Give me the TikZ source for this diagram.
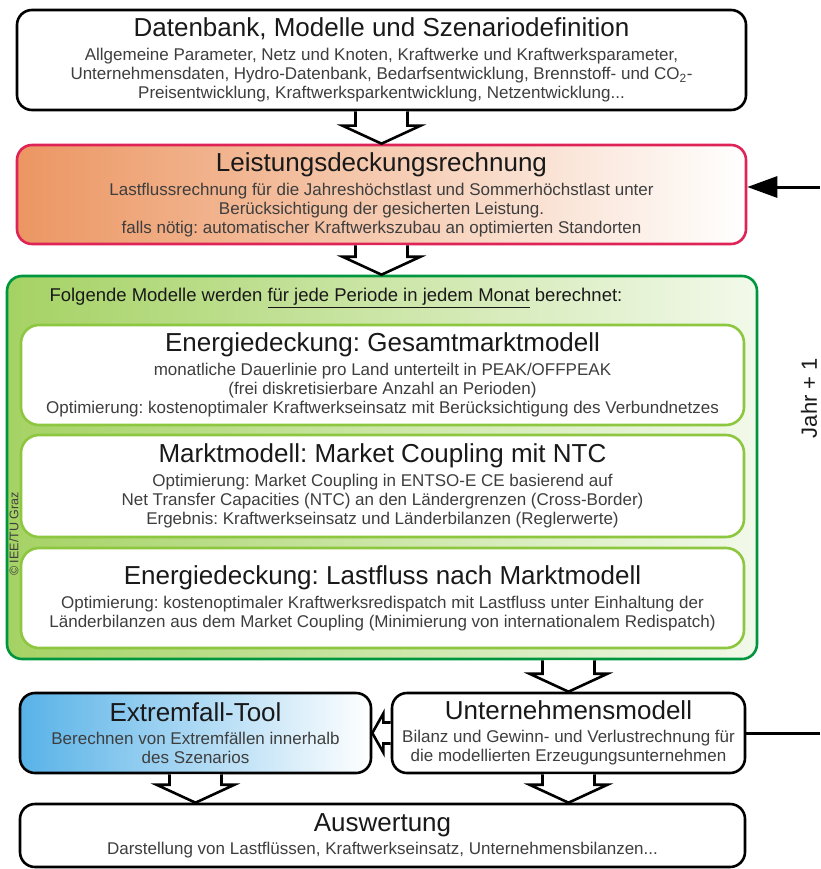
\documentclass[tikz,border=0pt]{standalone}
\usepackage{fontspec}
\setmainfont{Liberation Sans}
\usetikzlibrary{arrows.meta,calc}
\frenchspacing

\definecolor{ieeRed}{RGB}{222,36,86}
\definecolor{ieeOrange}{RGB}{236,150,98}
\definecolor{ieeGreen}{RGB}{0,150,64}
\definecolor{ieeLime}{RGB}{141,198,63}
\definecolor{ieeLeaf}{RGB}{165,210,100}
\definecolor{ieeMint}{RGB}{242,249,234}
\definecolor{ieeBlue}{RGB}{88,178,232}
\definecolor{txtGray}{RGB}{62,62,62}
\definecolor{ttlBlack}{RGB}{25,25,25}

\tikzset{
  box/.style={draw=black, line width=2.6pt, rounded corners=15pt, fill=white,
    align=center, inner sep=0pt, text=txtGray, font=\fontsize{17}{19}\selectfont},
  redbox/.style={box, draw=ieeRed, left color=ieeOrange, right color=white},
  greenbox/.style={box, draw=ieeGreen, left color=ieeLeaf, right color=ieeMint},
  modelbox/.style={box, draw=ieeLime, rounded corners=18pt},
  bluebox/.style={box, left color=ieeBlue, right color=white},
  hollowarrow/.style={draw=black, fill=white, line width=2.6pt, line join=miter},
  feedback/.style={line width=3pt, black}
}
\newcommand{\ttl}[1]{{\color{ttlBlack}\fontsize{26}{30}\selectfont #1}}

% hollow block arrow pointing down, from #1 to #2
\newcommand{\blockdown}[2]{%
  \draw[hollowarrow] let \p1=(#1), \p2=(#2) in
    (\x1-26pt,\y1) -- (\x1-26pt,\y2+18pt) -- (\x1-39pt,\y2+18pt) -- (\x1,\y2)
    -- (\x1+39pt,\y2+18pt) -- (\x1+26pt,\y2+18pt) -- (\x1+26pt,\y1);}
% small hollow block arrow pointing left, from #1 to #2
\newcommand{\blockleft}[2]{%
  \draw[hollowarrow] let \p1=(#1), \p2=(#2) in
    (\x1,\y1+10.5pt) -- (\x2+11pt,\y1+10.5pt) -- (\x2+11pt,\y1+19.5pt) -- (\x2,\y1)
    -- (\x2+11pt,\y1-19.5pt) -- (\x2+11pt,\y1-10.5pt) -- (\x1,\y1-10.5pt);}

\begin{document}
\begin{tikzpicture}[x=1pt, y=-1pt]
  \useasboundingbox (0,0) rectangle (820,869);
  \fill[white] (0,0) rectangle (820,869);

  % Szenario and Leistungsdeckung
  \node[box, minimum width=729pt, minimum height=100pt] (db) at (381.5,60)
    {\ttl{Datenbank, Modelle und Szenariodefinition}\\[5pt]
     Allgemeine Parameter, Netz und Knoten, Kraftwerke und Kraftwerksparameter,\\
     Unternehmensdaten, Hydro-Datenbank, Bedarfsentwicklung, Brennstoff- und CO\textsubscript{2}-\\
     Preisentwicklung, Kraftwerksparkentwicklung, Netzentwicklung...};
  \node[redbox, minimum width=729pt, minimum height=99pt] (lr) at (381.5,194.5)
    {\ttl{Leistungsdeckungsrechnung}\\[5pt]
     Lastflussrechnung für die Jahreshöchstlast und Sommerhöchstlast unter\\
     Berücksichtigung der gesicherten Leistung.\\
     falls nötig: automatischer Kraftwerkszubau an optimierten Standorten};

  % Monthly models
  \node[greenbox, minimum width=750pt, minimum height=383pt] (mon) at (382,467.5) {};
  \node[anchor=west, font=\fontsize{18.5}{21}\selectfont, text=ttlBlack] (montxt) at (46,298)
    {Folgende Modelle werden \underline{für jede Periode in jedem Monat} berechnet:};
  \node[rotate=90, font=\fontsize{12.5}{14}\selectfont, text=txtGray] (copy) at (14,534) {© IEE/TU Graz};
  \node[modelbox, minimum width=723pt, minimum height=100pt] (gm) at (382.5,375)
    {\ttl{Energiedeckung: Gesamtmarktmodell}\\[5pt]
     monatliche Dauerlinie pro Land unterteilt in PEAK/OFFPEAK\\
     (frei diskretisierbare Anzahl an Perioden)\\
     Optimierung: kostenoptimaler Kraftwerkseinsatz mit Berücksichtigung des Verbundnetzes};
  \node[modelbox, minimum width=723pt, minimum height=102pt] (mc) at (382.5,486)
    {\ttl{Marktmodell: Market Coupling mit NTC}\\[5pt]
     Optimierung: Market Coupling in ENTSO-E CE basierend auf\\
     Net Transfer Capacities (NTC) an den Ländergrenzen (Cross-Border)\\
     Ergebnis: Kraftwerkseinsatz und Länderbilanzen (Reglerwerte)};
  \node[modelbox, minimum width=723pt, minimum height=100pt] (lf) at (382.5,598)
    {\ttl{Energiedeckung: Lastfluss nach Marktmodell}\\[5pt]
     Optimierung: kostenoptimaler Kraftwerksredispatch mit Lastfluss unter Einhaltung der\\
     Länderbilanzen aus dem Market Coupling (Minimierung von internationalem Redispatch)};

  % Unternehmen, Extremfall, Auswertung
  \node[bluebox, minimum width=351pt, minimum height=80pt] (ex) at (195.5,733)
    {\ttl{Extremfall-Tool}\\[4pt]
     Berechnen von Extremfällen innerhalb\\
     des Szenarios};
  \node[box, minimum width=353pt, minimum height=80pt] (um) at (568.5,733)
    {\ttl{Unternehmensmodell}\\[4pt]
     Bilanz und Gewinn- und Verlustrechnung für\\
     die modellierten Erzeugungsunternehmen};
  \node[box, minimum width=725pt, minimum height=63pt] (aw) at (382.5,835.5)
    {\ttl{Auswertung}\\[4pt]
     Darstellung von Lastflüssen, Kraftwerkseinsatz, Unternehmensbilanzen...};

  % Block arrows
  \blockdown{db.south}{lr.north}
  \blockdown{lr.south}{mon.north -| lr.south}
  \blockdown{mon.south -| um.north}{um.north}
  \blockdown{ex.south}{aw.north -| ex.south}
  \blockdown{um.south}{aw.north -| um.south}
  \blockleft{um.west}{ex.east}

  % Jahr + 1 feedback
  \coordinate (fbin) at (820,187);
  \coordinate (fbout) at (820,733);
  \draw[feedback] (um.east) -- (fbout);
  \draw[feedback, -{Triangle[length=30pt, width=21pt]}] (fbin) -- (fbin -| lr.east);
  \node[rotate=90, font=\fontsize{22}{26}\selectfont, text=ttlBlack] (jahr) at (809,398) {Jahr + 1};
\end{tikzpicture}
\end{document}
